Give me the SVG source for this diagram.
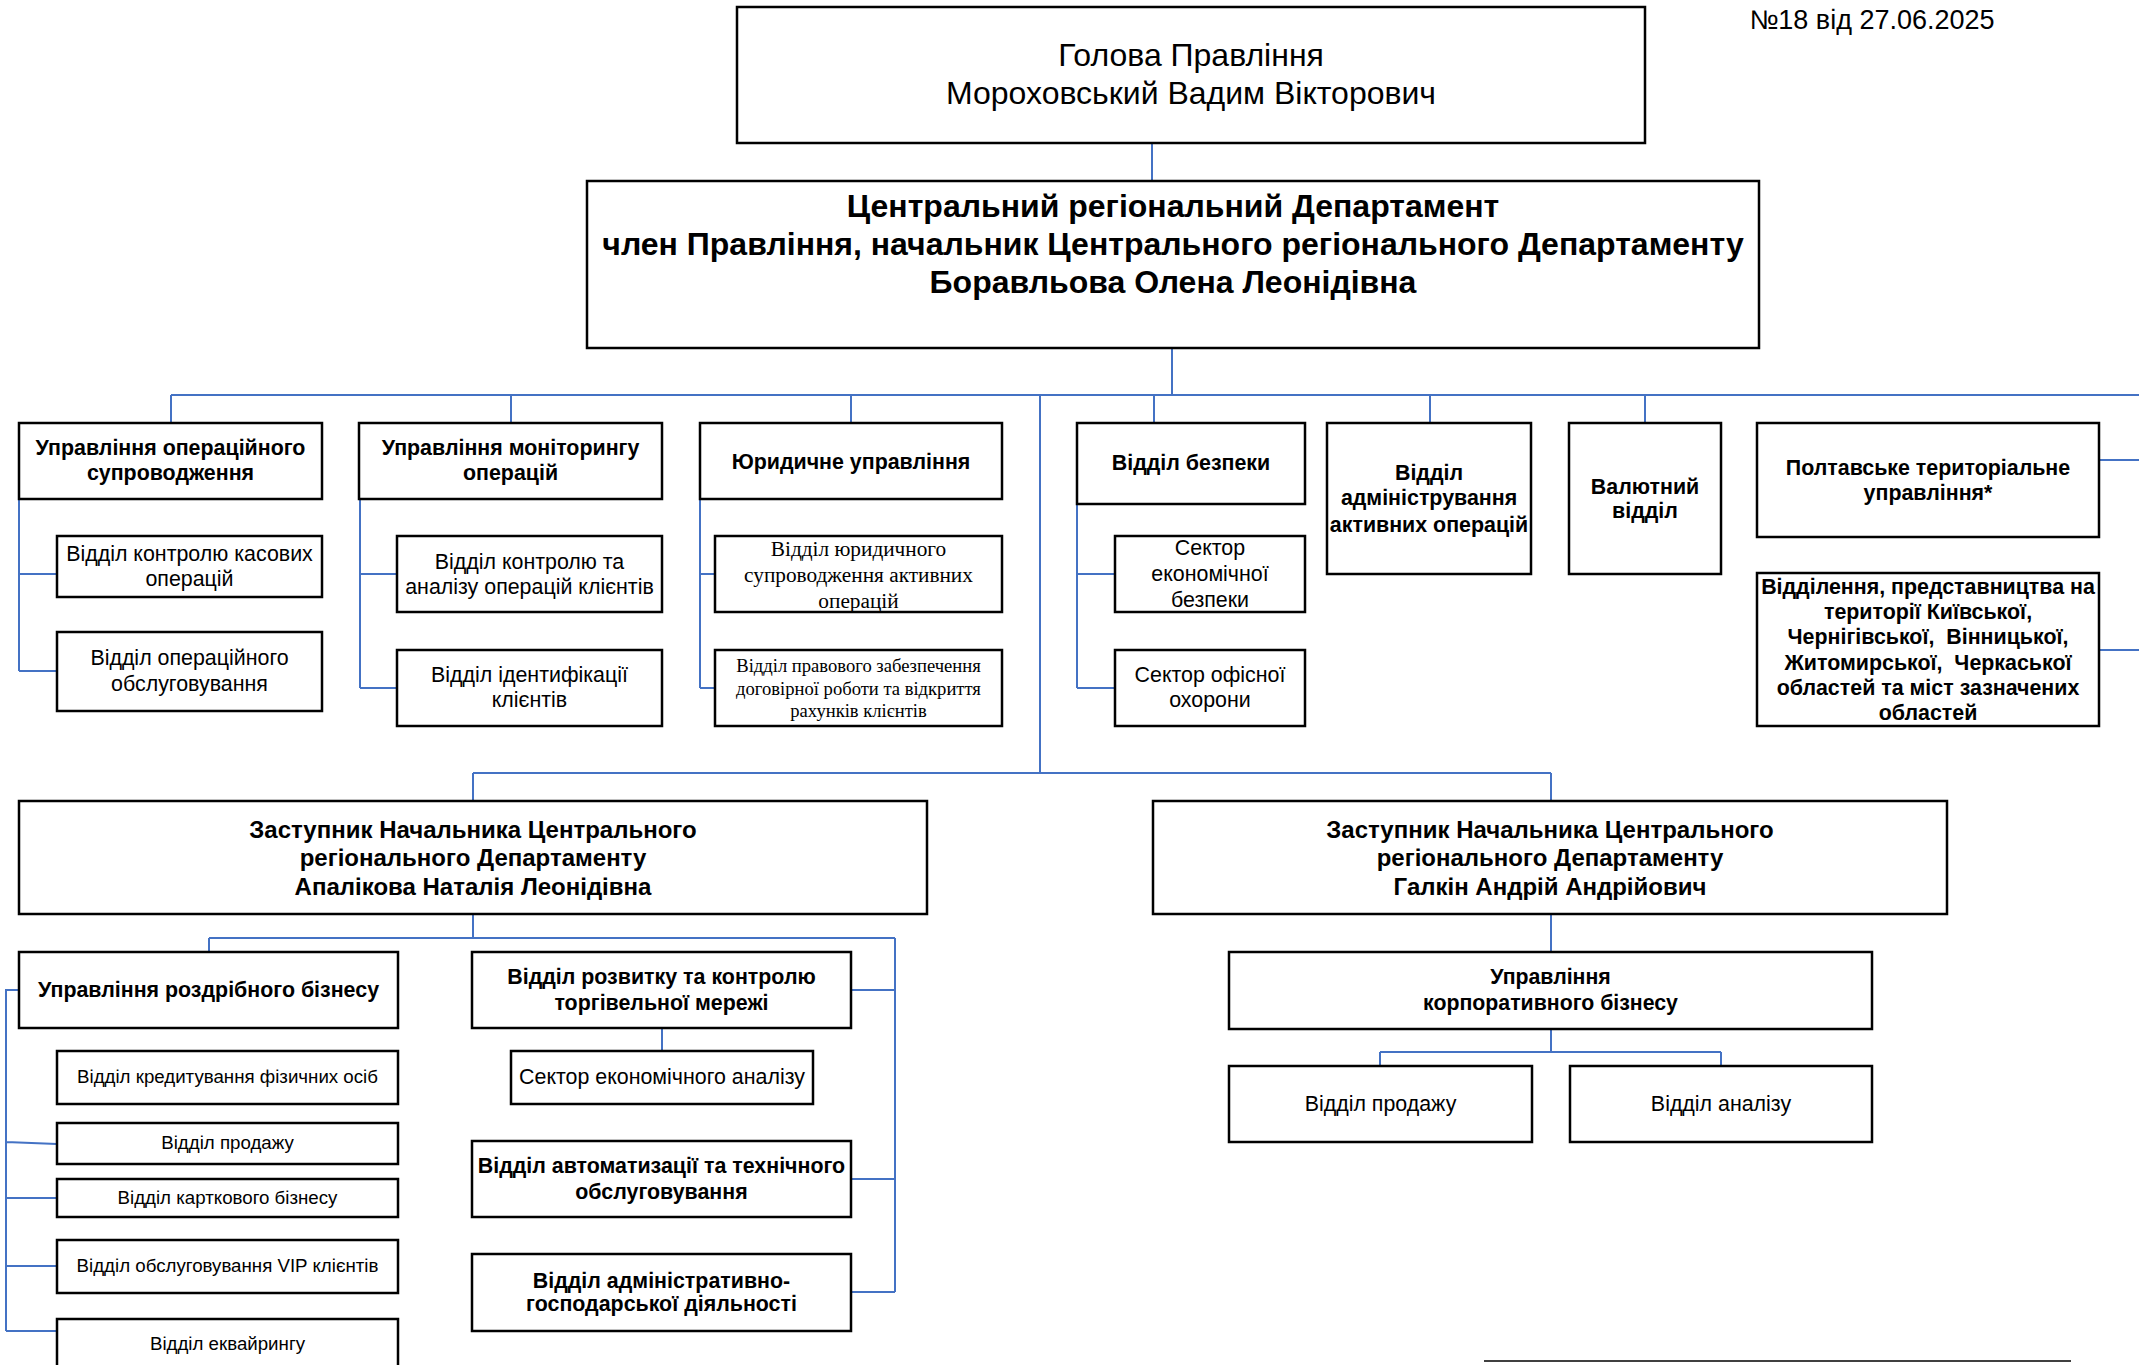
<svg xmlns="http://www.w3.org/2000/svg" width="2139" height="1365" viewBox="0 0 2139 1365">
<style>
.box{fill:#fff;stroke:#000;stroke-width:2.5}
.c{fill:none;stroke:#4472C4;stroke-width:2}
text{font-family:"Liberation Sans",Arial,sans-serif;text-anchor:middle;fill:#000}
.b{font-weight:bold}
.s{font-family:"Liberation Serif","Times New Roman",serif}
</style>
<rect width="2139" height="1365" fill="#fff"/>
<g id="connectors">
<path class="c" d="M1152,143V181 M1172,348V395 M171,395H2139 M171,395V423 M511,395V423 M851,395V423 M1154,395V423 M1430,395V423 M1645,395V423 M1040,395V773"/>
<path class="c" d="M19,460V671 M19,574H57 M19,671H57 M360,499V688 M360,574H397 M360,688H397 M700,460V688 M700,574H715 M700,688H715 M1077,460V688 M1077,574H1115 M1077,688H1115 M2099,460H2139 M2099,650H2139"/>
<path class="c" d="M473,773H1551 M473,773V801 M1551,773V801 M473,914V938 M209,938H895 M209,938V952 M895,938V1292 M851,990H895 M851,1179H895 M851,1292H895 M662,1028V1051"/>
<path class="c" d="M19,990H6V1331 M6,1142L57,1144 M6,1198H57 M6,1266H57 M6,1331H57"/>
<path class="c" d="M1551,914V952 M1551,1029V1052 M1380,1052H1721 M1380,1052V1066 M1721,1052V1066"/>
</g>
<g id="date"><text x="1872" y="29" font-size="27">№18 від 27.06.2025</text></g>
<g id="head"><rect class="box" x="737" y="7" width="908" height="136"/>
<text x="1191" y="66" font-size="32">Голова Правління</text>
<text x="1191" y="104" font-size="32">Мороховський Вадим Вікторович</text></g>
<g id="dept"><rect class="box" x="587" y="181" width="1172" height="167"/>
<text class="b" x="1173" y="217" font-size="32">Центральний регіональний Департамент</text>
<text class="b" x="1173" y="255" font-size="32">член Правління, начальник Центрального регіонального Департаменту</text>
<text class="b" x="1173" y="293" font-size="32">Боравльова Олена Леонідівна</text></g>
<g id="op"><rect class="box" x="19" y="423" width="303" height="76"/>
<text class="b" x="170.5" y="455" font-size="21.4">Управління операційного</text>
<text class="b" x="170.5" y="480" font-size="21.4">супроводження</text></g>
<g id="op1"><rect class="box" x="57" y="536" width="265" height="61"/>
<text x="189.5" y="561" font-size="21.4">Відділ контролю касових</text>
<text x="189.5" y="586" font-size="21.4">операцій</text></g>
<g id="op2"><rect class="box" x="57" y="632" width="265" height="79"/>
<text x="189.5" y="665" font-size="21.4">Відділ операційного</text>
<text x="189.5" y="691" font-size="21.4">обслуговування</text></g>
<g id="mon"><rect class="box" x="359" y="423" width="303" height="76"/>
<text class="b" x="510.5" y="455" font-size="21.4">Управління моніторингу</text>
<text class="b" x="510.5" y="480" font-size="21.4">операцій</text></g>
<g id="mon1"><rect class="box" x="397" y="536" width="265" height="76"/>
<text x="529.5" y="569" font-size="21.4">Відділ контролю та</text>
<text x="529.5" y="594" font-size="21.4">аналізу операцій клієнтів</text></g>
<g id="mon2"><rect class="box" x="397" y="650" width="265" height="76"/>
<text x="529.5" y="682" font-size="21.4">Відділ ідентифікації</text>
<text x="529.5" y="707" font-size="21.4">клієнтів</text></g>
<g id="jur"><rect class="box" x="700" y="423" width="302" height="76"/>
<text class="b" x="851" y="469" font-size="21.4">Юридичне управління</text></g>
<g id="jur1"><rect class="box" x="715" y="536" width="287" height="76"/>
<text class="s" x="858.5" y="556" font-size="21.3">Відділ юридичного</text>
<text class="s" x="858.5" y="582" font-size="21.3">супроводження активних</text>
<text class="s" x="858.5" y="608" font-size="21.3">операцій</text></g>
<g id="jur2"><rect class="box" x="715" y="650" width="287" height="76"/>
<text class="s" x="858.5" y="672" font-size="18.6">Відділ правового забезпечення</text>
<text class="s" x="858.5" y="695" font-size="18.6">договірної роботи та відкриття</text>
<text class="s" x="858.5" y="717" font-size="18.6">рахунків клієнтів</text></g>
<g id="sec"><rect class="box" x="1077" y="423" width="228" height="81"/>
<text class="b" x="1191" y="470" font-size="21.4">Відділ безпеки</text></g>
<g id="sec1"><rect class="box" x="1115" y="536" width="190" height="76"/>
<text x="1210" y="555" font-size="21.4">Сектор</text>
<text x="1210" y="581" font-size="21.4">економічної</text>
<text x="1210" y="607" font-size="21.4">безпеки</text></g>
<g id="sec2"><rect class="box" x="1115" y="650" width="190" height="76"/>
<text x="1210" y="682" font-size="21.4">Сектор офісної</text>
<text x="1210" y="707" font-size="21.4">охорони</text></g>
<g id="adm"><rect class="box" x="1327" y="423" width="204" height="151"/>
<text class="b" x="1429" y="480" font-size="21.4">Відділ</text>
<text class="b" x="1429" y="505" font-size="21.4">адміністрування</text>
<text class="b" x="1429" y="532" font-size="21.4">активних операцій</text></g>
<g id="fx"><rect class="box" x="1569" y="423" width="152" height="151"/>
<text class="b" x="1645" y="494" font-size="21.4">Валютний</text>
<text class="b" x="1645" y="518" font-size="21.4">відділ</text></g>
<g id="poltava"><rect class="box" x="1757" y="423" width="342" height="114"/>
<text class="b" x="1928" y="475" font-size="21.4">Полтавське територіальне</text>
<text class="b" x="1928" y="500" font-size="21.4">управління*</text></g>
<g id="branches"><rect class="box" x="1757" y="573" width="342" height="153"/>
<text class="b" x="1928" y="594" font-size="21.4">Відділення, представництва на</text>
<text class="b" x="1928" y="619" font-size="21.4">території Київської,</text>
<text class="b" x="1928" y="644" font-size="21.4" xml:space="preserve">Чернігівської,  Вінницької,</text>
<text class="b" x="1928" y="670" font-size="21.4" xml:space="preserve">Житомирської,  Черкаської</text>
<text class="b" x="1928" y="695" font-size="21.4">областей та міст зазначених</text>
<text class="b" x="1928" y="720" font-size="21.4">областей</text></g>
<g id="dep1"><rect class="box" x="19" y="801" width="908" height="113"/>
<text class="b" x="473" y="838" font-size="24">Заступник Начальника Центрального</text>
<text class="b" x="473" y="866" font-size="24">регіонального Департаменту</text>
<text class="b" x="473" y="895" font-size="24">Апалікова Наталія Леонідівна</text></g>
<g id="dep2"><rect class="box" x="1153" y="801" width="794" height="113"/>
<text class="b" x="1550" y="838" font-size="24">Заступник Начальника Центрального</text>
<text class="b" x="1550" y="866" font-size="24">регіонального Департаменту</text>
<text class="b" x="1550" y="895" font-size="24">Галкін Андрій Андрійович</text></g>
<g id="retail"><rect class="box" x="19" y="952" width="379" height="76"/>
<text class="b" x="208.5" y="997" font-size="21.4">Управління роздрібного бізнесу</text></g>
<g id="r1"><rect class="box" x="57" y="1051" width="341" height="53"/>
<text x="227.5" y="1083" font-size="18.7">Відділ кредитування фізичних осіб</text></g>
<g id="r2"><rect class="box" x="57" y="1123" width="341" height="41"/>
<text x="227.5" y="1149" font-size="18.7">Відділ продажу</text></g>
<g id="r3"><rect class="box" x="57" y="1179" width="341" height="38"/>
<text x="227.5" y="1204" font-size="18.7">Відділ карткового бізнесу</text></g>
<g id="r4"><rect class="box" x="57" y="1240" width="341" height="53"/>
<text x="227.5" y="1272" font-size="18.7">Відділ обслуговування VIP клієнтів</text></g>
<g id="r5"><rect class="box" x="57" y="1319" width="341" height="60"/>
<text x="227.5" y="1350" font-size="18.7">Відділ еквайрингу</text></g>
<g id="trade"><rect class="box" x="472" y="952" width="379" height="76"/>
<text class="b" x="661.5" y="984" font-size="21.4">Відділ розвитку та контролю</text>
<text class="b" x="661.5" y="1010" font-size="21.4">торгівельної мережі</text></g>
<g id="econ"><rect class="box" x="511" y="1051" width="302" height="53"/>
<text x="662" y="1084" font-size="21.4">Сектор економічного аналізу</text></g>
<g id="auto"><rect class="box" x="472" y="1141" width="379" height="76"/>
<text class="b" x="661.5" y="1173" font-size="21.4">Відділ автоматизації та технічного</text>
<text class="b" x="661.5" y="1199" font-size="21.4">обслуговування</text></g>
<g id="ahd"><rect class="box" x="472" y="1254" width="379" height="77"/>
<text class="b" x="661.5" y="1288" font-size="21.4">Відділ адміністративно-</text>
<text class="b" x="661.5" y="1311" font-size="21.4">господарської діяльності</text></g>
<g id="corp"><rect class="box" x="1229" y="952" width="643" height="77"/>
<text class="b" x="1550.5" y="984" font-size="21.3">Управління</text>
<text class="b" x="1550.5" y="1010" font-size="21.3">корпоративного бізнесу</text></g>
<g id="c1"><rect class="box" x="1229" y="1066" width="303" height="76"/>
<text x="1380.5" y="1111" font-size="21.4">Відділ продажу</text></g>
<g id="c2"><rect class="box" x="1570" y="1066" width="302" height="76"/>
<text x="1721" y="1111" font-size="21.4">Відділ аналізу</text></g>
<line x1="1484" y1="1361" x2="2071" y2="1361" stroke="#000" stroke-width="1.5"/>
</svg>
